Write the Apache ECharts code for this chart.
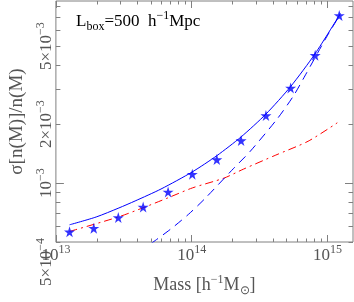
<!DOCTYPE html>
<html><head><meta charset="utf-8">
<script src="https://cdn.jsdelivr.net/npm/echarts@6/dist/echarts.min.js"></script>
<style>html,body{margin:0;padding:0;background:#fff}#c{width:354px;height:302px}</style>
</head><body><div id="c"></div>
<script>
// ---- data ----
const massStars  = [1.26e13, 1.90e13, 2.88e13, 4.39e13, 6.70e13, 1.01e14, 1.53e14, 2.31e14, 3.52e14, 5.35e14, 8.11e14, 1.22e15];
const sigmaStars = [5.64e-4, 5.88e-4, 6.66e-4, 7.54e-4, 9.01e-4, 1.11e-3, 1.317e-3, 1.647e-3, 2.21e-3, 3.06e-3, 4.49e-3, 7.17e-3];

const massSolid  = [1.26e13, 1.98e13, 2.91e13, 3.83e13, 5.94e13, 1.01e14, 1.53e14, 2.31e14, 3.52e14, 5.35e14, 8.11e14, 1.245e15];
const sigmaSolid = [6.12e-4, 6.71e-4, 7.46e-4, 8.10e-4, 9.32e-4, 1.14e-3, 1.379e-3, 1.72e-3, 2.25e-3, 3.11e-3, 4.58e-3, 7.34e-3];

const massDashed  = [5.0e13, 7.0e13, 9.46e13, 1.245e14, 2.04e14, 2.68e14, 4.27e14, 5.62e14, 6.81e14, 9.73e14, 1.21e15];
const sigmaDashed = [4.9e-4, 5.82e-4, 6.92e-4, 8.30e-4, 1.19e-3, 1.445e-3, 2.13e-3, 2.79e-3, 3.52e-3, 5.49e-3, 7.06e-3];

const massDashDot  = [1.26e13, 2.88e13, 4.39e13, 6.68e13, 1.01e14, 1.73e14, 2.40e14, 4.16e14, 7.19e14, 1.18e15];
const sigmaDashDot = [5.66e-4, 6.71e-4, 7.48e-4, 8.40e-4, 9.44e-4, 1.06e-3, 1.177e-3, 1.389e-3, 1.634e-3, 2.03e-3];

const xMajorTicks = [1e13, 1e14, 1e15];
const xMinorTicks = [2e13,3e13,4e13,5e13,6e13,7e13,8e13,9e13,2e14,3e14,4e14,5e14,6e14,7e14,8e14,9e14];
const yLabelTicks = [5e-4, 1e-3, 2e-3, 5e-3];
const yMajorTicks = [1e-3];
const yMinorTicks = [5e-4,6e-4,7e-4,8e-4,9e-4,2e-3,3e-3,4e-3,5e-3,6e-3,7e-3,8e-3];

const yName = 'σ[n(M)]/n(M)';

// ---- chart ----
const FONT = 'Liberation Serif';
const TXT = '#555';
const FRAME = '#808080';
const rich = {
  b:  {fontFamily: FONT, fontSize: 17, color: TXT, lineHeight: 23, verticalAlign: 'middle'},
  n:  {fontFamily: FONT, fontSize: 18, color: TXT, lineHeight: 23, verticalAlign: 'middle'},
  s:  {fontFamily: FONT, fontSize: 12, color: TXT, lineHeight: 12, verticalAlign: 'top'},
  sl: {fontFamily: FONT, fontSize: 12, color: TXT, lineHeight: 12, verticalAlign: 'top', padding: [0, 40, 0, 0]},
  u:  {fontFamily: FONT, fontSize: 12, color: TXT, lineHeight: 12, verticalAlign: 'bottom'}
};
function splitPow(v) {
  const e = Math.floor(Math.log10(v) + 1e-9);
  const m = Math.round(v / Math.pow(10, e));
  return [m, e];
}
function xFmt(v) {
  const [m, e] = splitPow(v);
  return '{b|' + (m === 1 ? '' : m + '×') + '10}{s|' + e + '}';
}
function yFmt(v) {
  const [m, e] = splitPow(v);
  const isBottom = Math.abs(v - yLabelTicks[0]) < 1e-9;
  return '{b|' + (m === 1 ? '' : m + '×') + '10}{' + (isBottom ? 'sl' : 's') + '|−' + (-e) + '}';
}

const xMin = 1e13, xMax = 1.54e15, yMin = 5e-4, yMax = 8.5e-3;
function xAx(pos, ticks, len, labels) {
  return {
    type: 'log', position: pos, min: xMin, max: xMax, logBase: 10,
    axisLine: {show: false}, splitLine: {show: false},
    axisTick: {show: true, inside: true, length: len, customValues: ticks, lineStyle: {color: FRAME, width: 1}},
    axisLabel: labels ? {show: true, customValues: xMajorTicks, formatter: xFmt, rich: rich, margin: 2} : {show: false},
    name: labels ? '{n|Mass [h}{s|−1}{n|M}{u|⊙}{n|]}' : '',
    nameLocation: 'middle', nameGap: 32,
    nameTextStyle: {rich: rich}
  };
}
function yAx(pos, ticks, len, labels) {
  return {
    type: 'log', position: pos, min: yMin, max: yMax, logBase: 10,
    axisLine: {show: false}, splitLine: {show: false},
    axisTick: {show: true, inside: true, length: len, customValues: ticks, lineStyle: {color: FRAME, width: 1}},
    axisLabel: labels ? {show: true, customValues: yLabelTicks, formatter: yFmt, rich: rich, rotate: 90, margin: -2} : {show: false},
    name: labels ? yName : '',
    nameLocation: 'middle', nameGap: 24,
    nameTextStyle: {fontFamily: FONT, fontSize: 19, color: TXT}
  };
}

const chart = echarts.init(document.getElementById('c'), null, {renderer: 'canvas'});
const starPath = 'path://M50,0 L61,35 L98,35 L68,57 L79,91 L50,70 L21,91 L32,57 L2,35 L39,35 Z';
function zip(a, b) { return a.map((v, i) => [v, b[i]]); }

chart.setOption({
  animation: false,
  backgroundColor: '#fff',
  grid: {left: 47, right: 1, top: 1, bottom: 57, show: true, borderColor: FRAME, borderWidth: 1, backgroundColor: 'transparent'},
  xAxis: [
    xAx('bottom', xMajorTicks, 7, true),
    xAx('bottom', xMinorTicks, 3.5, false),
    xAx('top', xMajorTicks, 7, false),
    xAx('top', xMinorTicks, 3.5, false)
  ],
  yAxis: [
    yAx('left', yMajorTicks, 8, true),
    yAx('left', yMinorTicks, 4.5, false),
    yAx('right', yMajorTicks, 8, false),
    yAx('right', yMinorTicks, 4.5, false)
  ],
  graphic: [{
    type: 'text', left: 76, top: 10, silent: true,
    style: {
      text: '{b|L}{u|box}{b|=500  h}{s|−1}{b|Mpc}',
      rich: rich
    }
  }],
  series: [
    {type: 'line', data: zip(massDashDot, sigmaDashDot), showSymbol: false, smooth: 0.25,
     lineStyle: {color: '#ff0000', width: 1, type: [8, 4, 2, 4]}, z: 2},
    {type: 'line', data: zip(massDashed, sigmaDashed), showSymbol: false, smooth: 0.25,
     lineStyle: {color: '#0000ff', width: 1, type: [9, 6]}, z: 2},
    {type: 'line', data: zip(massSolid, sigmaSolid), showSymbol: false, smooth: 0.25,
     lineStyle: {color: '#0000ff', width: 1}, z: 3},
    {type: 'scatter', data: zip(massStars, sigmaStars), symbol: starPath, symbolSize: 11,
     itemStyle: {color: '#0000ff'}, z: 4}
  ]
});
</script></body></html>
